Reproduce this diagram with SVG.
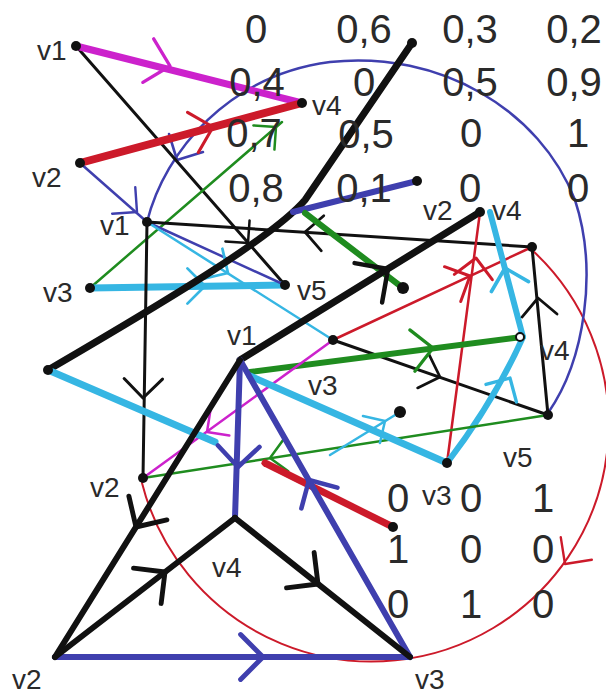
<svg xmlns="http://www.w3.org/2000/svg" width="606" height="697" viewBox="0 0 606 697">
<defs>
<path id="ch" d="M-16,-16 L0,0 L-16,16" fill="none" stroke-linecap="round" stroke-linejoin="round"/>
</defs>
<style>
.e{fill:none;stroke-linecap:round;stroke-linejoin:round}
.k{stroke:#111}
.m{stroke:#cc22cc}
.r{stroke:#cc1a2a}
.b{stroke:#3f3fae}
.g{stroke:#1f8c1f}
.c{stroke:#36b6e3}
.n{fill:#111}
.o{fill:#fff;stroke:#111;stroke-width:2}
text{font-family:"Liberation Sans",Arial,sans-serif;fill:#2a2a2a}
.lb{font-size:28px}
.mx{font-size:40px;text-anchor:middle}
</style>
<rect width="606" height="697" fill="#fff"/>
<g id="connectors" class="e">
<path class="r" stroke-width="2" d="M532,250 A237,237 0 1 1 142,483"/>
<use href="#ch" class="r" stroke-width="2" transform="translate(565,564) rotate(126) scale(1.2)"/>
<path class="b" stroke-width="2.5" d="M147,222 C165,150 230,75 330,62 C440,50 540,110 575,200 C598,270 585,360 548,413"/>
<use href="#ch" class="b" stroke-width="2.2" transform="translate(177,160) rotate(118) scale(1.2)"/>
<path class="k" stroke-width="3" d="M76,46 L285,285"/>
<use href="#ch" class="k" stroke-width="2.5" transform="translate(248,243) rotate(49)"/>
<path class="m" stroke-width="7" d="M76,46 L302,103"/>
<use href="#ch" class="m" stroke-width="2.4" transform="translate(170,66) rotate(14) scale(1.4)"/>
<path class="r" stroke-width="8" d="M80,163 L302,103"/>
<use href="#ch" class="r" stroke-width="2.4" transform="translate(213,127) rotate(-15) scale(1.3)"/>
<path class="b" stroke-width="2.5" d="M80,163 L147,222"/>
<use href="#ch" class="b" stroke-width="2.2" transform="translate(137,212) rotate(41) scale(1.1)"/>
<path class="g" stroke-width="2.5" d="M90,288 L282,122"/>
<use href="#ch" class="g" stroke-width="2.5" transform="translate(276,127) rotate(-41)"/>
<path class="c" stroke-width="7" d="M90,288 L285,285"/>
<use href="#ch" class="c" stroke-width="2.5" transform="translate(205,286) scale(1.1)"/>
<path class="b" stroke-width="2.5" d="M147,222 L285,285"/>
<path class="c" stroke-width="2.5" d="M147,222 L333,340"/>
<use href="#ch" class="c" stroke-width="2.5" transform="translate(228,273) rotate(32) scale(1.1)"/>
<path class="k" stroke-width="3" d="M147,222 L532,247"/>
<use href="#ch" class="k" stroke-width="2.5" transform="translate(305,232) rotate(184) scale(1.1)"/>
<path class="k" stroke-width="3" d="M147,222 L143,478"/>
<use href="#ch" class="k" stroke-width="2.5" transform="translate(143,398) rotate(91) scale(1.2)"/>
<path class="k" stroke-width="7" d="M48,370 C180,293 275,235 305,200 L412,43"/>
<path class="b" stroke-width="6" d="M417,181 L293,212"/>
<path class="g" stroke-width="6" d="M403,288 L305,213"/>
<path class="k" stroke-width="7" d="M240,360 L480,212"/>
<use href="#ch" class="k" stroke-width="3" transform="translate(388,269) rotate(-35) scale(1.5)"/>
<path class="k" stroke-width="3" d="M333,340 L548,415"/>
<use href="#ch" class="k" stroke-width="2.5" transform="translate(440,377) rotate(19) scale(1.1)"/>
<path class="r" stroke-width="2.5" d="M333,340 L532,247"/>
<use href="#ch" class="r" stroke-width="2.5" transform="translate(470,276) rotate(-25) scale(1.2)"/>
<path class="r" stroke-width="2.5" d="M447,463 L480,212"/>
<use href="#ch" class="r" stroke-width="2.5" transform="translate(476,258) rotate(-82) scale(1.2)"/>
<path class="c" stroke-width="6" d="M447,463 Q495,400 523,337"/>
<use href="#ch" class="c" stroke-width="3" transform="translate(510,378) rotate(-60) scale(1.1)"/>
<path class="c" stroke-width="6" d="M523,337 L490,212"/>
<use href="#ch" class="c" stroke-width="3" transform="translate(505,268) rotate(-105) scale(1.2)"/>
<path class="k" stroke-width="3" d="M548,415 L532,247"/>
<use href="#ch" class="k" stroke-width="2.5" transform="translate(538,298) rotate(-95) scale(1.1)"/>
<path class="g" stroke-width="2.5" d="M548,415 L143,478"/>
<use href="#ch" class="g" stroke-width="2.5" transform="translate(270,458) rotate(171)"/>
<path class="g" stroke-width="6" d="M250,372 L522,337"/>
<use href="#ch" class="g" stroke-width="2.5" transform="translate(433,348) rotate(-7) scale(1.3)"/>
<path class="m" stroke-width="2.5" d="M333,340 L143,478"/>
<use href="#ch" class="m" stroke-width="2.5" transform="translate(207,432) rotate(144)"/>
<path class="c" stroke-width="7" d="M48,370 L215,442"/>
<path class="c" stroke-width="7" d="M250,376 L447,463"/>
<path class="c" stroke-width="2.5" d="M330,455 L400,412"/>
<use href="#ch" class="c" stroke-width="2.5" transform="translate(385,421) rotate(-32)"/>
<path class="r" stroke-width="7" d="M393,527 L265,463"/>
<path class="b" stroke-width="6" d="M240,360 L235,518"/>
<use href="#ch" class="b" stroke-width="3.5" transform="translate(238,467) rotate(92) scale(1.3)"/>
<path class="b" stroke-width="6" d="M240,360 L410,657"/>
<use href="#ch" class="b" stroke-width="3.5" transform="translate(309,480) rotate(-120) scale(1.3)"/>
<path class="b" stroke-width="6" d="M55,657 L410,657"/>
<use href="#ch" class="b" stroke-width="3.5" transform="translate(263,657) scale(1.4)"/>
<path class="k" stroke-width="6" d="M240,360 L55,657"/>
<use href="#ch" class="k" stroke-width="3.5" transform="translate(136,527) rotate(122) scale(1.4)"/>
<path class="k" stroke-width="6" d="M55,657 L235,518"/>
<use href="#ch" class="k" stroke-width="3.5" transform="translate(165,572) rotate(-38) scale(1.4)"/>
<path class="k" stroke-width="6" d="M235,518 L410,657"/>
<use href="#ch" class="k" stroke-width="3.5" transform="translate(318,584) rotate(38) scale(1.4)"/>
</g>
<g id="matrix1" class="mx">
<text x="256" y="43">0</text><text x="364" y="43">0,6</text><text x="470" y="43">0,3</text><text x="574" y="43">0,2</text>
<text x="257" y="96">0,4</text><text x="364" y="96">0</text><text x="470" y="96">0,5</text><text x="574" y="96">0,9</text>
<text x="254" y="147">0,7</text><text x="366" y="148">0,5</text><text x="471" y="147">0</text><text x="578" y="147">1</text>
<text x="256" y="202">0,8</text><text x="364" y="202">0,1</text><text x="470" y="202">0</text><text x="578" y="202">0</text>
</g>
<g id="matrix2" class="mx">
<text x="398" y="512">0</text><text x="471" y="512">0</text><text x="543" y="512">1</text>
<text x="398" y="563">1</text><text x="471" y="563">0</text><text x="543" y="563">0</text>
<text x="398" y="618">0</text><text x="471" y="618">1</text><text x="543" y="618">0</text>
</g>
<g id="n1"><circle class="n" cx="76" cy="46" r="5"/><text class="lb" x="37" y="60">v1</text></g>
<g id="n2"><circle class="n" cx="302" cy="103" r="5"/><text class="lb" x="312" y="115">v4</text></g>
<g id="n3"><circle class="n" cx="80" cy="163" r="5"/><text class="lb" x="32" y="187">v2</text></g>
<g id="n4"><circle class="n" cx="147" cy="222" r="5"/><text class="lb" x="100" y="235">v1</text></g>
<g id="n5"><circle class="n" cx="90" cy="288" r="5"/><text class="lb" x="43" y="302">v3</text></g>
<g id="n6"><circle class="n" cx="285" cy="285" r="5"/><text class="lb" x="297" y="300">v5</text></g>
<g id="n7"><circle class="n" cx="480" cy="212" r="5"/><text class="lb" x="423" y="220">v2</text><text class="lb" x="492" y="220">v4</text></g>
<g id="n8"><circle class="n" cx="532" cy="247" r="5"/></g>
<g id="n9"><circle class="o" cx="520" cy="337" r="4"/><text class="lb" x="540" y="360">v4</text></g>
<g id="n10"><circle class="n" cx="548" cy="415" r="5"/><text class="lb" x="503" y="467">v5</text></g>
<g id="n11"><circle class="n" cx="333" cy="340" r="5"/><text class="lb" x="308" y="395">v3</text></g>
<g id="n12"><circle class="n" cx="447" cy="463" r="5"/><text class="lb" x="422" y="505">v3</text></g>
<g id="n13"><circle class="n" cx="143" cy="478" r="5"/><text class="lb" x="90" y="497">v2</text></g>
<g id="n14"><text class="lb" x="227" y="345">v1</text></g>
<g id="n15"><circle class="n" cx="235" cy="518" r="3"/><text class="lb" x="212" y="577">v4</text></g>
<g id="n16"><text class="lb" x="12" y="689">v2</text></g>
<g id="n17"><text class="lb" x="415" y="689">v3</text></g>
<g id="dots">
<circle class="n" cx="412" cy="43" r="5"/>
<circle class="n" cx="417" cy="181" r="5"/>
<circle class="n" cx="403" cy="288" r="6"/>
<circle class="n" cx="48" cy="370" r="5"/>
<circle class="n" cx="400" cy="412" r="6"/>
<circle class="n" cx="393" cy="527" r="5"/>
</g>
</svg>
